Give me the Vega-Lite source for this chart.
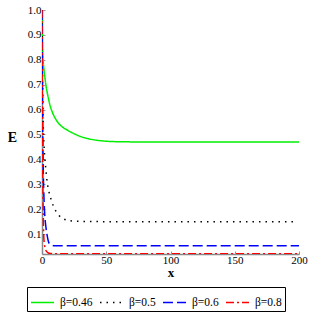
{
  "$schema": "https://vega.github.io/schema/vega-lite/v6.json",
  "autosize": {"type": "none"},
  "width": 257,
  "height": 244,
  "padding": {"left": 42, "top": 10, "right": 13, "bottom": 58},
  "background": "white",
  "config": {
    "font": "Liberation Serif",
    "view": {"stroke": null}
  },
  "data": {
    "values": [
      {"s": "β=0.46", "x": 0, "E": 1.0},
      {"s": "β=0.46", "x": 0.2, "E": 0.9},
      {"s": "β=0.46", "x": 0.5, "E": 0.83},
      {"s": "β=0.46", "x": 1, "E": 0.79},
      {"s": "β=0.46", "x": 2, "E": 0.74},
      {"s": "β=0.46", "x": 3, "E": 0.70},
      {"s": "β=0.46", "x": 4, "E": 0.67},
      {"s": "β=0.46", "x": 5, "E": 0.645},
      {"s": "β=0.46", "x": 6, "E": 0.622},
      {"s": "β=0.46", "x": 8, "E": 0.59},
      {"s": "β=0.46", "x": 10, "E": 0.568},
      {"s": "β=0.46", "x": 12, "E": 0.551},
      {"s": "β=0.46", "x": 15, "E": 0.534},
      {"s": "β=0.46", "x": 20, "E": 0.517},
      {"s": "β=0.46", "x": 25, "E": 0.503},
      {"s": "β=0.46", "x": 30, "E": 0.492},
      {"s": "β=0.46", "x": 35, "E": 0.484},
      {"s": "β=0.46", "x": 40, "E": 0.479},
      {"s": "β=0.46", "x": 50, "E": 0.473},
      {"s": "β=0.46", "x": 60, "E": 0.471},
      {"s": "β=0.46", "x": 80, "E": 0.47},
      {"s": "β=0.46", "x": 120, "E": 0.47},
      {"s": "β=0.46", "x": 160, "E": 0.47},
      {"s": "β=0.46", "x": 200, "E": 0.47},
      {"s": "β=0.5", "x": 0, "E": 1.0},
      {"s": "β=0.5", "x": 0.3, "E": 0.8},
      {"s": "β=0.5", "x": 0.7, "E": 0.6},
      {"s": "β=0.5", "x": 1.2, "E": 0.5},
      {"s": "β=0.5", "x": 2, "E": 0.42},
      {"s": "β=0.5", "x": 3, "E": 0.36},
      {"s": "β=0.5", "x": 4, "E": 0.31},
      {"s": "β=0.5", "x": 5, "E": 0.28},
      {"s": "β=0.5", "x": 7, "E": 0.24},
      {"s": "β=0.5", "x": 10, "E": 0.2},
      {"s": "β=0.5", "x": 13, "E": 0.176},
      {"s": "β=0.5", "x": 16, "E": 0.163},
      {"s": "β=0.5", "x": 20, "E": 0.155},
      {"s": "β=0.5", "x": 25, "E": 0.152},
      {"s": "β=0.5", "x": 30, "E": 0.151},
      {"s": "β=0.5", "x": 50, "E": 0.15},
      {"s": "β=0.5", "x": 100, "E": 0.15},
      {"s": "β=0.5", "x": 150, "E": 0.15},
      {"s": "β=0.5", "x": 198, "E": 0.15},
      {"s": "β=0.6", "x": 0, "E": 1.0},
      {"s": "β=0.6", "x": 0.3, "E": 0.7},
      {"s": "β=0.6", "x": 0.6, "E": 0.5},
      {"s": "β=0.6", "x": 1, "E": 0.35},
      {"s": "β=0.6", "x": 1.5, "E": 0.25},
      {"s": "β=0.6", "x": 2, "E": 0.19},
      {"s": "β=0.6", "x": 3, "E": 0.13},
      {"s": "β=0.6", "x": 4, "E": 0.095},
      {"s": "β=0.6", "x": 5, "E": 0.07},
      {"s": "β=0.6", "x": 6, "E": 0.06},
      {"s": "β=0.6", "x": 8, "E": 0.055},
      {"s": "β=0.6", "x": 10, "E": 0.053},
      {"s": "β=0.6", "x": 50, "E": 0.053},
      {"s": "β=0.6", "x": 100, "E": 0.053},
      {"s": "β=0.6", "x": 150, "E": 0.053},
      {"s": "β=0.6", "x": 200, "E": 0.053},
      {"s": "β=0.8", "x": 0, "E": 1.0},
      {"s": "β=0.8", "x": 0.2, "E": 0.7},
      {"s": "β=0.8", "x": 0.4, "E": 0.5},
      {"s": "β=0.8", "x": 0.6, "E": 0.35},
      {"s": "β=0.8", "x": 0.8, "E": 0.25},
      {"s": "β=0.8", "x": 1, "E": 0.17},
      {"s": "β=0.8", "x": 1.3, "E": 0.1},
      {"s": "β=0.8", "x": 1.7, "E": 0.065},
      {"s": "β=0.8", "x": 2.2, "E": 0.05},
      {"s": "β=0.8", "x": 3, "E": 0.035},
      {"s": "β=0.8", "x": 4, "E": 0.028},
      {"s": "β=0.8", "x": 5, "E": 0.024},
      {"s": "β=0.8", "x": 7, "E": 0.022},
      {"s": "β=0.8", "x": 10, "E": 0.021},
      {"s": "β=0.8", "x": 50, "E": 0.021},
      {"s": "β=0.8", "x": 100, "E": 0.021},
      {"s": "β=0.8", "x": 150, "E": 0.021},
      {"s": "β=0.8", "x": 200, "E": 0.021}
    ]
  },
  "mark": {"type": "line", "strokeWidth": 1.5, "clip": true, "interpolate": "monotone"},
  "encoding": {
    "x": {
      "field": "x", "type": "quantitative",
      "scale": {"domain": [0, 200], "nice": false},
      "axis": {
        "title": "x", "titleFontSize": 13, "titleFontWeight": "bold", "titlePadding": 1,
        "values": [0, 50, 100, 150, 200], "labelFontSize": 11, "labelColor": "black",
        "labelPadding": 3, "tickSize": -3, "tickColor": "#999", "domainColor": "#888", "domainWidth": 1.5,
        "grid": false, "labelFlush": false
      }
    },
    "y": {
      "field": "E", "type": "quantitative",
      "scale": {"domain": [0.02, 1.0], "nice": false, "zero": false},
      "axis": {
        "title": "E", "titleAngle": 0, "titleFontSize": 14, "titleFontWeight": "bold",
        "titleX": -30, "titleY": 127, "titleBaseline": "middle", "titleAlign": "center",
        "values": [0.1, 0.2, 0.3, 0.4, 0.5, 0.6, 0.7, 0.8, 0.9, 1.0], "format": ".1f",
        "labelFontSize": 11, "labelColor": "black", "labelPadding": 4,
        "tickSize": -3, "tickColor": "#999", "domainColor": "#888", "domainWidth": 1.5,
        "grid": false, "labelFlush": false
      }
    },
    "color": {
      "field": "s", "type": "nominal",
      "scale": {"domain": ["β=0.46", "β=0.5", "β=0.6", "β=0.8"], "range": ["#00ee00", "#000000", "#0000ff", "#ff0000"]},
      "legend": {
        "title": null, "orient": "none", "legendX": -15, "legendY": 277, "direction": "horizontal",
        "columns": 4, "strokeColor": "black", "padding": 3, "symbolType": "stroke",
        "symbolSize": 529, "symbolStrokeWidth": 1.5, "labelFontSize": 11.5, "labelColor": "black",
        "columnPadding": 4, "labelOffset": 5,
        "encode": {"symbols": {"update": {"strokeDash": {"scale": "strokeDash", "field": "value"}}}}
      }
    },
    "strokeDash": {
      "field": "s", "type": "nominal",
      "scale": {"domain": ["β=0.46", "β=0.5", "β=0.6", "β=0.8"], "range": [[1, 0], [1.5, 5], [10, 4], [8, 3, 2, 3]]}
    }
  }
}
